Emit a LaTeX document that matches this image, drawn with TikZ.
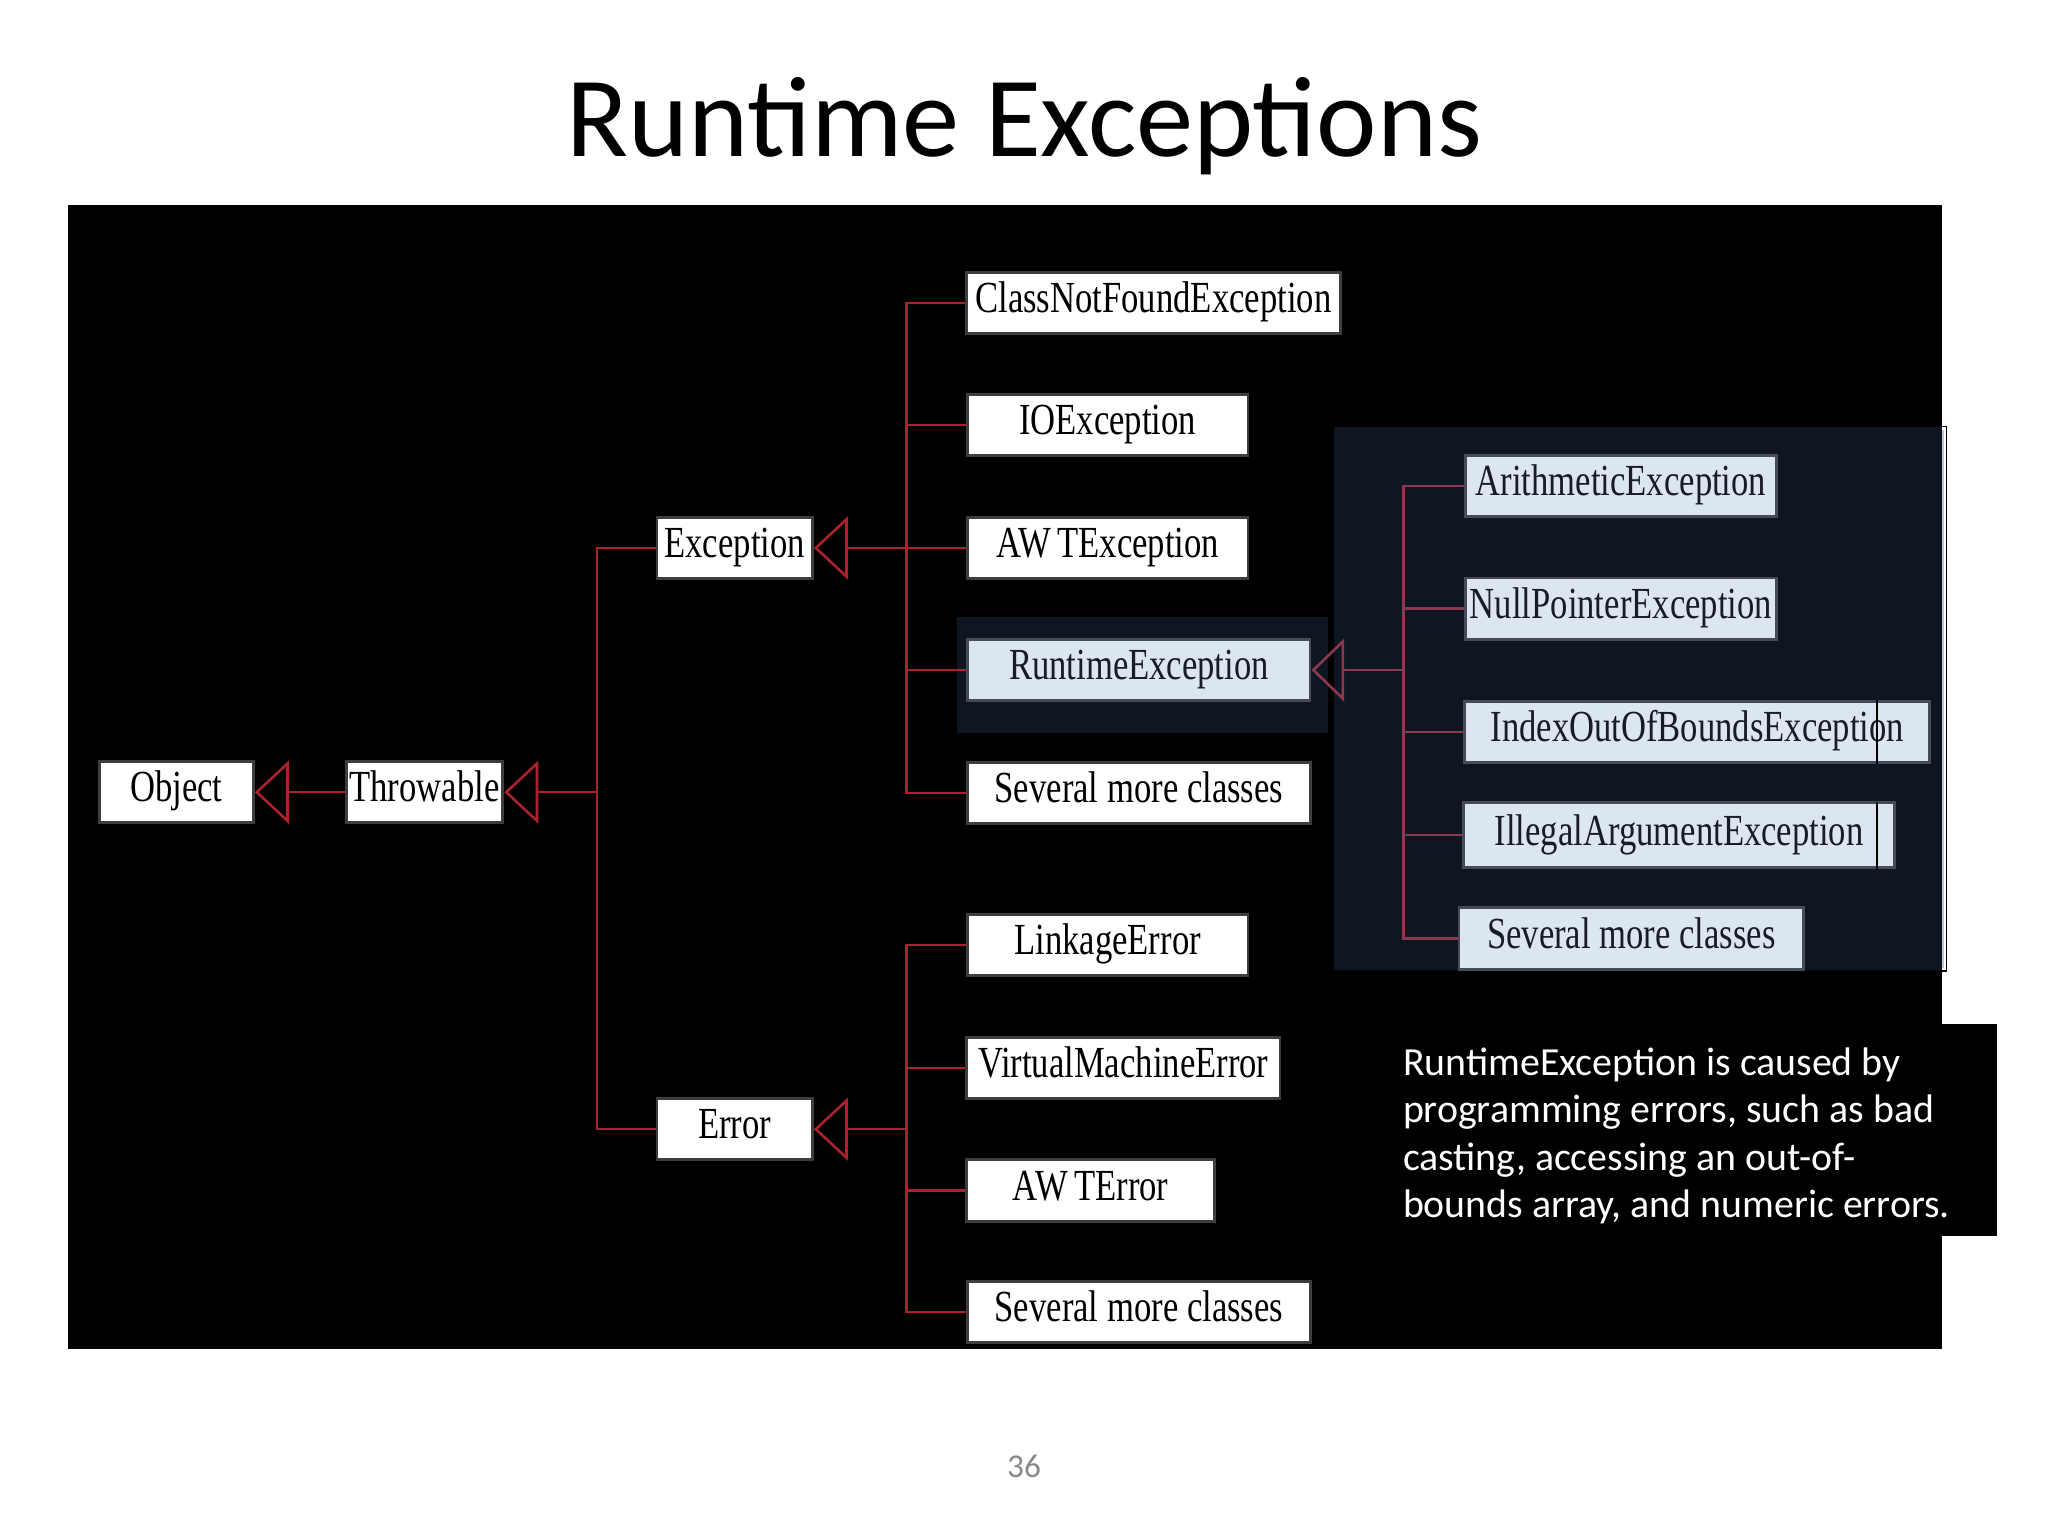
\documentclass[tikz,border=0pt]{standalone}
\usepackage{fontspec}
\setmainfont{Carlito}
\newfontfamily\clsfont[FakeStretch=0.78]{Liberation Serif}
\usetikzlibrary{arrows.meta}

\definecolor{linkred}{RGB}{172,34,44}
\definecolor{linkdim}{RGB}{140,56,78}
\definecolor{navy}{RGB}{14,22,34}
\definecolor{paleblue}{RGB}{220,230,241}
\definecolor{boxline}{RGB}{62,62,62}
\definecolor{pagegray}{RGB}{137,137,137}

\tikzset{
  cls/.style={draw=boxline, fill=white, line width=2.2pt, inner sep=0pt,
    minimum height=47pt, text height=20pt, text depth=5pt,
    font=\clsfont\fontsize{34}{40}\selectfont, text=black},
  rtcls/.style={cls, fill=paleblue, draw={rgb,255:red,70;green,76;blue,86},
    text={rgb,255:red,25;green,28;blue,36}},
  link/.style={draw=linkred, line width=1.8pt},
  linkrt/.style={draw=linkdim, line width=1.8pt},
  inh/.style={link, line width=2pt, -{Triangle[open,length=26pt,width=48pt]}},
  inhrt/.style={linkrt, line width=2pt, -{Triangle[open,length=25pt,width=48pt]}}
}

\begin{document}
\begin{tikzpicture}[x=1pt,y=-1pt]
\useasboundingbox (0,0) rectangle (1568,1176);
\fill[white] (0,0) rectangle (1568,1176);
%title
\node[font=\fontsize{87.6}{100}\selectfont, anchor=base] (title) at (784,120) {Runtime Exceptions};
%background
\fill[black] (52,157) rectangle (1487,1033);
\fill[navy] (733,472) rectangle (1017,561);
\fill[navy] (1021,327) rectangle (1487,743);
\draw[paleblue!70!gray, line width=1.5pt] (1487.5,329) -- (1487.5,741);
\draw[black, line width=1pt] (1021,326.5) rectangle (1490.5,743.5);
\fill[black] (1040,784) rectangle (1529,946);

%left part
\node[cls, minimum width=118pt] (obj) at (135,606.5) {Object};
\node[cls, minimum width=120pt] (thr) at (325,606.5) {Throwable};
\node[cls, minimum width=119pt] (exc) at (562.5,419.5) {Exception};
\node[cls, minimum width=119pt] (err) at (562.5,864.5) {Error};

%exceptions
\node[cls, minimum width=286pt] (cnf) at (883,232) {ClassNotFoundException};
\node[cls, minimum width=215pt] (ioe) at (848,325.5) {IOException};
\node[cls, minimum width=215pt] (awte) at (848,419.5) {AW\kern5pt TException};
\node[rtcls, minimum width=262pt] (rte) at (872,513) {RuntimeException};
\node[cls, minimum width=263pt] (sevexc) at (872,607) {Several more classes};

%errors
\node[cls, minimum width=215pt] (lnk) at (848,723.5) {LinkageError};
\node[cls, minimum width=240pt] (vme) at (860,817.5) {VirtualMachineError};
\node[cls, minimum width=190pt] (awterr) at (835,911.5) {AW\kern5pt TError};
\node[cls, minimum width=263pt] (severr) at (872,1004.5) {Several more classes};

%runtime exceptions
\node[rtcls, minimum width=238pt] (ari) at (1241,372) {ArithmeticException};
\node[rtcls, minimum width=238pt] (npe) at (1241,466) {NullPointerException};
\node[rtcls, minimum width=356pt] (ioob) at (1299.5,560.5) {IndexOutOfBoundsException};
\node[rtcls, minimum width=330pt, minimum height=50pt] (iae) at (1285.5,639.5) {IllegalArgumentException};
\node[rtcls, minimum width=264pt] (sevrt) at (1249,718.5) {Several more classes};
\draw[black, line width=1.5pt] (1437,536) -- (1437,585)
	(1437,614) -- (1437,665);

%connectors
\coordinate (thrspine) at (457,606.5);
\coordinate (excspine) at (694,419.5);
\coordinate (errspine) at (694,864.5);
\coordinate (rtespine) at (1074.5,513);
\draw[inh] (thr) -- (obj);
\draw[inh] (thrspine) -- (thr);
\draw[link] (exc.west) -| (thrspine) |- (err.west);
\draw[inh] (excspine) -- (exc);
\foreach \c in {cnf,ioe,awte,rte,sevexc}
	\draw[link] (excspine) |- (\c.west);
\draw[inh] (errspine) -- (err);
\foreach \c in {lnk,vme,awterr,severr}
	\draw[link] (errspine) |- (\c.west);
\draw[inhrt] (rtespine) -- (rte);
\foreach \c in {ari,npe,ioob,iae,sevrt}
	\draw[linkrt] (rtespine) |- (\c.west);

%note
\node[anchor=north west, inner sep=0pt, align=left, text=white,
	font=\fontsize{30.5}{36.3}\selectfont] (note) at (1074,802)
	{RuntimeException is caused by\\programming errors, such as bad\\casting, accessing an out-of-\\bounds array, and numeric errors.};
%page number
\node[font=\fontsize{25.5}{30}\selectfont, text=pagegray, anchor=base] (pgnum) at (784,1131) {36};
\end{tikzpicture}
\end{document}
